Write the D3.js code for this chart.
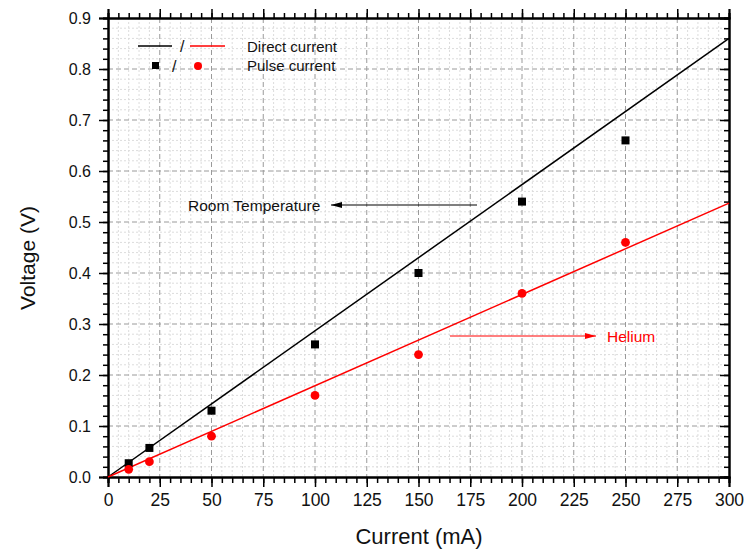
<!DOCTYPE html>
<html>
<head>
<meta charset="utf-8">
<script src="https://cdn.jsdelivr.net/npm/d3@7"></script>
<style>
  html, body { margin: 0; padding: 0; background: #fff; }
  svg { display: block; font-family: "Liberation Sans", Arial, sans-serif; }
</style>
</head>
<body>
<svg id="chart" width="744" height="552"></svg>
<script>
// Measured currents (mA)
const currents = [10, 20, 50, 100, 150, 200, 250];
// Pulse-current voltages (V)
const pulseRoom = [0.027, 0.057, 0.13, 0.26, 0.40, 0.54, 0.66];
const pulseHelium = [0.015, 0.03, 0.08, 0.16, 0.24, 0.36, 0.46];
// Direct-current linear fits, evaluated at the range ends
const fitCurrents = [0, 300];
const directRoom = [0, 0.86];
const directHelium = [0, 0.537];
// Tick labels
const xTicks = [0, 25, 50, 75, 100, 125, 150, 175, 200, 225, 250, 275, 300];
const yTicks = [0.0, 0.1, 0.2, 0.3, 0.4, 0.5, 0.6, 0.7, 0.8, 0.9];

const svg = d3.select("#chart");
const plotL = 108, plotR = 729, plotT = 18, plotB = 477;

const x = d3.scaleLinear().domain([0, 300]).range([plotL, plotR]);
const y = d3.scaleLinear().domain([0, 0.9]).range([plotB, plotT]);

const xMinor = d3.range(0, 300.001, 5);
const yMinor = d3.range(0, 0.9001, 0.02).map(v => +v.toFixed(2));

const grid = svg.append("g");
// minor grid (dotted)
grid.selectAll(".mx").data(xMinor.filter(v => v % 25 !== 0)).join("line")
  .attr("x1", d => x(d)).attr("x2", d => x(d)).attr("y1", plotT).attr("y2", plotB)
  .attr("stroke", "#dcdcdc").attr("stroke-width", 1).attr("stroke-dasharray", "2,2");
grid.selectAll(".my").data(yMinor.filter(v => Math.abs(Math.round(v * 10) - v * 10) > 1e-6)).join("line")
  .attr("x1", plotL).attr("x2", plotR).attr("y1", d => y(d)).attr("y2", d => y(d))
  .attr("stroke", "#dcdcdc").attr("stroke-width", 1).attr("stroke-dasharray", "2,2");
// major grid (dashed)
grid.selectAll(".Mx").data(xTicks.slice(1, -1)).join("line")
  .attr("x1", d => x(d)).attr("x2", d => x(d)).attr("y1", plotT).attr("y2", plotB)
  .attr("stroke", "#9a9a9a").attr("stroke-width", 1).attr("stroke-dasharray", "5,3");
grid.selectAll(".My").data(yTicks.slice(1, -1)).join("line")
  .attr("x1", plotL).attr("x2", plotR).attr("y1", d => y(d)).attr("y2", d => y(d))
  .attr("stroke", "#9a9a9a").attr("stroke-width", 1).attr("stroke-dasharray", "5,3");

// Axes
function styleAxis(size) {
  return g => {
    g.selectAll("path").attr("stroke", "#000").attr("stroke-width", 2);
    g.selectAll("line").attr("stroke", "#000").attr("stroke-width", 1.5);
    g.selectAll("text").attr("fill", "#111").attr("font-size", size)
      .attr("font-family", "Liberation Sans, Arial, sans-serif");
  };
}
const fmtY = d3.format(".1f");

// bottom
svg.append("g").attr("transform", `translate(0,${plotB})`)
  .call(d3.axisBottom(x).tickValues(xMinor).tickSize(6).tickFormat(""))
  .call(styleAxis(17));
svg.append("g").attr("transform", `translate(0,${plotB})`)
  .call(d3.axisBottom(x).tickValues(xTicks).tickSize(10).tickPadding(7).tickFormat(d3.format("d")))
  .call(styleAxis(17.5));
// top
svg.append("g").attr("transform", `translate(0,${plotT})`)
  .call(d3.axisTop(x).tickValues(xMinor).tickSize(5).tickFormat(""))
  .call(styleAxis(17));
svg.append("g").attr("transform", `translate(0,${plotT})`)
  .call(d3.axisTop(x).tickValues(xTicks).tickSize(9).tickFormat(""))
  .call(styleAxis(17));
// left
svg.append("g").attr("transform", `translate(${plotL},0)`)
  .call(d3.axisLeft(y).tickValues(yMinor).tickSize(5).tickFormat(""))
  .call(styleAxis(16));
svg.append("g").attr("transform", `translate(${plotL},0)`)
  .call(d3.axisLeft(y).tickValues(yTicks).tickSize(9).tickPadding(8).tickFormat(fmtY))
  .call(styleAxis(16));
// right (ticks pointing inward)
svg.append("g").attr("transform", `translate(${plotR},0)`)
  .call(d3.axisLeft(y).tickValues(yMinor).tickSize(5).tickFormat(""))
  .call(styleAxis(16));
svg.append("g").attr("transform", `translate(${plotR},0)`)
  .call(d3.axisLeft(y).tickValues(yTicks).tickSize(9).tickFormat(""))
  .call(styleAxis(16));

// Axis titles
svg.append("text").attr("x", 419).attr("y", 544)
  .attr("text-anchor", "middle").attr("font-size", 22).attr("fill", "#111")
  .text("Current (mA)");
svg.append("text").attr("transform", "translate(35,258) rotate(-90)")
  .attr("text-anchor", "middle").attr("font-size", 21).attr("fill", "#111")
  .text("Voltage (V)");

// Fit lines
const line = d3.line().x(d => x(d[0])).y(d => y(d[1]));
svg.append("path").datum(d3.zip(fitCurrents, directRoom)).attr("d", line)
  .attr("fill", "none").attr("stroke", "#000").attr("stroke-width", 1.5);
svg.append("path").datum(d3.zip(fitCurrents, directHelium)).attr("d", line)
  .attr("fill", "none").attr("stroke", "#ff0000").attr("stroke-width", 1.5);

// Points
svg.append("g").selectAll("rect").data(d3.zip(currents, pulseRoom)).join("rect")
  .attr("x", d => x(d[0]) - 4).attr("y", d => y(d[1]) - 4)
  .attr("width", 8).attr("height", 8).attr("fill", "#000");
svg.append("g").selectAll("circle").data(d3.zip(currents, pulseHelium)).join("circle")
  .attr("cx", d => x(d[0])).attr("cy", d => y(d[1])).attr("r", 4.4).attr("fill", "#ff0000");

// Legend
const lg = svg.append("g");
lg.append("line").attr("x1", 138).attr("x2", 172).attr("y1", 46).attr("y2", 46)
  .attr("stroke", "#000").attr("stroke-width", 1.5);
lg.append("text").attr("x", 180).attr("y", 52).attr("font-size", 16).attr("fill", "#111").text("/");
lg.append("line").attr("x1", 190).attr("x2", 225).attr("y1", 46).attr("y2", 46)
  .attr("stroke", "#ff0000").attr("stroke-width", 1.5);
lg.append("text").attr("x", 247).attr("y", 52).attr("font-size", 15).attr("fill", "#111").text("Direct current");
lg.append("rect").attr("x", 152).attr("y", 62).attr("width", 7).attr("height", 7).attr("fill", "#000");
lg.append("text").attr("x", 172).attr("y", 72).attr("font-size", 16).attr("fill", "#111").text("/");
lg.append("circle").attr("cx", 198).attr("cy", 66).attr("r", 4).attr("fill", "#ff0000");
lg.append("text").attr("x", 247).attr("y", 71).attr("font-size", 15).attr("fill", "#111").text("Pulse current");

// Annotations
const defs = svg.append("defs");
function marker(id, color) {
  defs.append("marker").attr("id", id).attr("viewBox", "0 0 11 6")
    .attr("refX", 11).attr("refY", 3).attr("markerWidth", 11).attr("markerHeight", 6)
    .attr("markerUnits", "userSpaceOnUse").attr("orient", "auto")
    .append("path").attr("d", "M0,0 L11,3 L0,6 Z").attr("fill", color);
}
marker("arrowBlack", "#000");
marker("arrowRed", "#ff0000");

svg.append("line").attr("x1", 477).attr("x2", 331).attr("y1", 205).attr("y2", 205)
  .attr("stroke", "#000").attr("stroke-width", 1).attr("marker-end", "url(#arrowBlack)");
svg.append("text").attr("x", 188).attr("y", 210.5).attr("font-size", 15.5).attr("fill", "#111")
  .text("Room Temperature");

svg.append("line").attr("x1", 450).attr("x2", 596).attr("y1", 336).attr("y2", 336)
  .attr("stroke", "#ff0000").attr("stroke-width", 1).attr("marker-end", "url(#arrowRed)");
svg.append("text").attr("x", 607).attr("y", 342).attr("font-size", 15.5).attr("fill", "#ff0000")
  .text("Helium");
</script>
</body>
</html>
